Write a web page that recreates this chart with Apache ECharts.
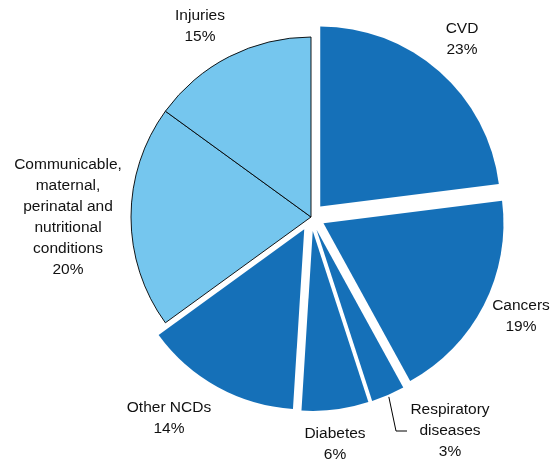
<!DOCTYPE html>
<html>
<head>
<meta charset="utf-8">
<script src="https://cdn.jsdelivr.net/npm/echarts@6/dist/echarts.min.js"></script>
<style>
  html, body { margin: 0; padding: 0; background: #fff; }
  #chart { width: 555px; height: 461px; }
</style>
</head>
<body>
<div id="chart"></div>
<script>
// Causes of death, share of total (%)
const causes = ['CVD', 'Cancers', 'Respiratory\ndiseases', 'Diabetes', 'Other NCDs',
  'Communicable,\nmaternal,\nperinatal and\nnutritional\nconditions', 'Injuries'];
const shares = [23, 19, 3, 6, 14, 20, 15];
// Noncommunicable causes are pulled out of the pie
const isNCD = [true, true, true, true, true, false, false];

// Label anchor points (centre of each text block)
const labelAnchors = [[462, 39], [521, 316], [450, 431], [335, 444], [169, 418], [68, 217], [200, 26]];

const DARK = '#1570B8';
const LIGHT = '#75C6EE';
const CENTER = [311, 217];
const RADIUS = 180;
const EXPLODE = 14;
const LEADER_INDEX = 2;

const chart = echarts.init(document.getElementById('chart'));

// Point just outside the rim of a slice, on its bisector
function rimPoint(idx, extra) {
  const total = shares.reduce((s, v) => s + v, 0);
  let before = 0;
  for (let k = 0; k < idx; k++) before += shares[k];
  const mid = (before + shares[idx] / 2) / total * 2 * Math.PI;
  const r = RADIUS + (isNCD[idx] ? EXPLODE : 0) + extra;
  return [CENTER[0] + r * Math.sin(mid), CENTER[1] - r * Math.cos(mid)];
}

// Elbow leader from the small slice to its label
function leaderPoints(idx) {
  const a = labelAnchors[idx];
  const endX = a[0] - 43;
  return [rimPoint(idx, 2), [endX - 11, a[1]], [endX, a[1]]];
}

// Slices: NCDs are drawn in the selected (exploded) state
const sliceData = causes.map((name, i) => ({
  name: name,
  value: shares[i],
  selected: isNCD[i],
  itemStyle: isNCD[i]
    ? { color: DARK, borderWidth: 0 }
    : { color: LIGHT, borderColor: '#000', borderWidth: 0.9 }
}));

// Labels ride on an unfilled copy of the pie so they can be placed freely
const labelData = causes.map((name, i) => ({ name: name, value: shares[i] }));

chart.setOption({
  animation: false,
  graphic: [{
    type: 'polyline',
    shape: { points: leaderPoints(LEADER_INDEX) },
    style: { stroke: '#000', lineWidth: 1, fill: null },
    silent: true,
    z: 10
  }],
  series: [{
    type: 'pie',
    center: CENTER,
    radius: RADIUS,
    startAngle: 90,
    clockwise: true,
    selectedMode: 'multiple',
    selectedOffset: EXPLODE,
    emphasis: { disabled: true },
    label: { show: false },
    labelLine: { show: false },
    data: sliceData,
    z: 2
  }, {
    type: 'pie',
    center: CENTER,
    radius: RADIUS,
    startAngle: 90,
    clockwise: true,
    silent: true,
    selectedMode: false,
    emphasis: { disabled: true },
    itemStyle: { color: 'rgba(0,0,0,0)', borderWidth: 0 },
    data: labelData,
    z: 3,
    label: {
      show: true,
      position: 'inside',
      overflow: 'none',
      formatter: p => p.name + '\n' + p.value + '%',
      fontFamily: 'Liberation Sans, Arial, sans-serif',
      fontSize: 15.5,
      lineHeight: 21,
      color: '#111',
      align: 'center'
    },
    labelLine: { show: false },
    labelLayout: function (p) {
      const a = labelAnchors[p.dataIndex];
      return { x: a[0], y: a[1], align: 'center', verticalAlign: 'middle' };
    }
  }]
});
</script>
</body>
</html>
